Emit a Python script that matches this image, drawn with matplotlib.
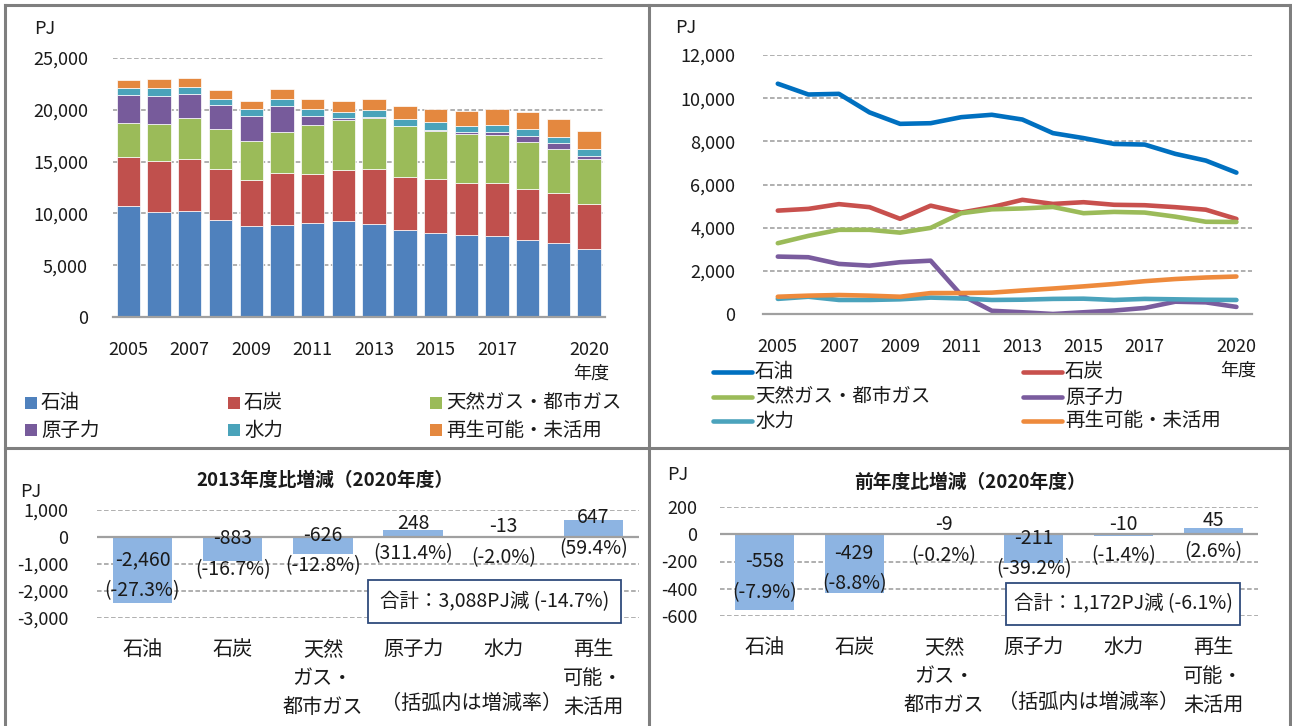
import matplotlib
matplotlib.use('Agg')
import matplotlib.pyplot as plt
from matplotlib.patches import Rectangle
from matplotlib.lines import Line2D
from matplotlib.transforms import offset_copy

plt.rcParams['font.family'] = ['Noto Sans CJK JP', 'DejaVu Sans']
plt.rcParams['text.color'] = '#1a1a1a'
plt.rcParams['xtick.color'] = '#1a1a1a'
plt.rcParams['ytick.color'] = '#1a1a1a'

W, H = 1292, 726

# ---- data (PJ) ----
years = list(range(2005, 2021))
sources = ['石油', '石炭', '天然ガス・都市ガス', '原子力', '水力', '再生可能・未活用']
oil     = [10670, 10170, 10200, 9340, 8810, 8840, 9120, 9230, 9010, 8380, 8150, 7880, 7850, 7420, 7108, 6550]
coal    = [4790, 4870, 5090, 4950, 4410, 5020, 4700, 4950, 5290, 5100, 5180, 5060, 5040, 4950, 4833, 4404]
gas     = [3280, 3620, 3900, 3900, 3770, 3990, 4670, 4850, 4890, 4960, 4670, 4730, 4700, 4510, 4273, 4264]
nuclear = [2660, 2630, 2320, 2240, 2400, 2470, 880, 150, 80, 0, 80, 160, 280, 570, 539, 328]
hydro   = [700, 800, 650, 650, 680, 760, 720, 650, 663, 700, 710, 650, 700, 680, 660, 650]
renew   = [800, 850, 880, 850, 800, 970, 970, 990, 1089, 1180, 1280, 1390, 1520, 1620, 1691, 1736]
series = [oil, coal, gas, nuclear, hydro, renew]

year_ticks = [2005, 2007, 2009, 2011, 2013, 2015, 2017, 2020]
year_labels = ['2005', '2007', '2009', '2011', '2013', '2015', '2017', '2020\n年度']

bar_colors = ['#4F81BD', '#C0504D', '#9BBB59', '#775B9B', '#4AA3BA', '#E4883F']
line_colors = ['#0070C0', '#C8504D', '#9BBB59', '#7A5C9E', '#4BA3BC', '#EE8A3C']

cat_labels = ['石油', '石炭', '天然\nガス・\n都市ガス', '原子力', '水力', '再生\n可能・\n未活用']
d13_vals = [-2460, -883, -626, 248, -13, 647]
d13_pct = ['-27.3%', '-16.7%', '-12.8%', '311.4%', '-2.0%', '59.4%']
d13_total = '合計：3,088PJ減 (-14.7%)'
dprev_vals = [-558, -429, -9, -211, -10, 45]
dprev_pct = ['-7.9%', '-8.8%', '-0.2%', '-39.2%', '-1.4%', '2.6%']
dprev_total = '合計：1,172PJ減 (-6.1%)'

fig = plt.figure(figsize=(W / 100, H / 100), dpi=100)


def px_axes(l, t, r, b):
    return fig.add_axes([l / W, 1 - b / H, (r - l) / W, (b - t) / H])


def fx(x):
    return x / W


def fy(y):
    return 1 - y / H


def style_axes(ax, ypad):
    for s in ax.spines.values():
        s.set_visible(False)
    ax.grid(axis='y', color='#9a9a9a', linestyle=(0, (3, 1.6)), linewidth=1.1)
    ax.set_axisbelow(True)
    ax.tick_params(length=0, labelsize=13)
    ax.tick_params(axis='y', pad=ypad)


# ---- top left: stacked bars ----
ax1 = px_axes(113, 58, 604.5, 317)
x = list(range(len(years)))
bottom = [0] * len(years)
for name, vals, c in zip(sources, series, bar_colors):
    ax1.bar(x, vals, bottom=bottom, width=0.76, color=c, edgecolor='white', linewidth=0.5)
    bottom = [b + v for b, v in zip(bottom, vals)]
ax1.set_xlim(-0.5, len(years) - 0.5)
ax1.set_ylim(0, 25000)
ax1.set_yticks(range(0, 25001, 5000))
ax1.set_yticklabels(['{:,}'.format(v) for v in range(0, 25001, 5000)])
style_axes(ax1, 18)
ax1.spines['bottom'].set_visible(True)
ax1.spines['bottom'].set_color('#a0a0a0')
ax1.spines['bottom'].set_linewidth(1.6)
ax1.set_xticks([years.index(y) for y in year_ticks])
ax1.set_xticklabels(year_labels, linespacing=1.45)
ax1.tick_params(axis='x', pad=17)
for t in ax1.get_xticklabels():
    t.set_multialignment('right')
fig.text(fx(45), fy(29), 'PJ', ha='center', va='center', fontsize=13)

# legend (squares)
leg_pos = [(25, 403), (228, 403), (430, 403), (25, 430), (228, 430), (430, 430)]
for (lx, ly), name, c in zip(leg_pos, sources, bar_colors):
    fig.add_artist(Rectangle((fx(lx), fy(ly + 6)), 12 / W, 12 / H, transform=fig.transFigure,
                             facecolor=c, edgecolor='none'))
    fig.text(fx(lx + 16), fy(ly), name, ha='left', va='center', fontsize=14)

# ---- top right: lines ----
ax2 = px_axes(762.5, 55, 1251.7, 314)
for vals, c in zip(series, line_colors):
    ax2.plot(x, vals, color=c, linewidth=3.3, solid_capstyle='round')
ax2.set_xlim(-0.5, len(years) - 0.5)
ax2.set_ylim(0, 12000)
ax2.set_yticks(range(0, 12001, 2000))
ax2.set_yticklabels(['{:,}'.format(v) for v in range(0, 12001, 2000)])
style_axes(ax2, 19.5)
ax2.spines['bottom'].set_visible(True)
ax2.spines['bottom'].set_color('#a0a0a0')
ax2.spines['bottom'].set_linewidth(1.6)
ax2.set_xticks([years.index(y) for y in year_ticks])
ax2.set_xticklabels(year_labels, linespacing=1.45)
ax2.tick_params(axis='x', pad=17)
for t in ax2.get_xticklabels():
    t.set_multialignment('right')
fig.text(fx(686), fy(28), 'PJ', ha='center', va='center', fontsize=13)

leg2_pos = [(711, 372), (1021, 372), (711, 397), (1021, 397), (711, 421), (1021, 421)]
for (lx, ly), name, c in zip(leg2_pos, sources, line_colors):
    fig.add_artist(Line2D([fx(lx + 2), fx(lx + 41)], [fy(ly), fy(ly)], transform=fig.transFigure,
                          color=c, linewidth=3.3, solid_capstyle='round'))
    fig.text(fx(lx + 44), fy(ly), name, ha='left', va='center', fontsize=14)


# ---- bottom: difference charts ----
def diff_chart(box, lim, step, vals, pcts, title, title_xy, pj_xy, total, total_box, note_xy, ypad):
    ax = px_axes(*box)
    pos = list(range(len(vals)))
    ax.bar(pos, vals, width=0.66, color='#8DB4E2', edgecolor='none', zorder=2)
    ax.axhline(0, color='#a0a0a0', linewidth=1.6, zorder=3)
    lab_tr = offset_copy(ax.transData, fig=fig, y=-5, units='dots')
    for i, (v, p) in zip(pos, zip(vals, pcts)):
        ax.text(i, v / 2, '{:,}\n({})'.format(v, p), ha='center', va='center',
                fontsize=14, linespacing=1.6, zorder=4, transform=lab_tr)
    ax.set_xlim(-0.5, len(vals) - 0.5)
    ax.set_ylim(*lim)
    ticks = list(range(lim[0], lim[1] + 1, step))
    ax.set_yticks(ticks)
    ax.set_yticklabels(['{:,}'.format(t) for t in ticks])
    style_axes(ax, ypad)
    ax.set_xticks(pos)
    ax.set_xticklabels(cat_labels, fontsize=14.5, linespacing=1.5, va='top')
    ax.tick_params(axis='x', pad=15)
    fig.text(fx(title_xy[0]), fy(title_xy[1]), title, ha='center', va='center',
             fontsize=13.5, fontweight='bold')
    fig.text(fx(pj_xy[0]), fy(pj_xy[1]), 'PJ', ha='center', va='center', fontsize=13)
    l, t, r, b = total_box
    fig.add_artist(Rectangle((fx(l), fy(b)), (r - l) / W, (b - t) / H, transform=fig.transFigure,
                             facecolor='white', edgecolor='#2F4B7C', linewidth=1.3, zorder=5))
    fig.text(fx((l + r) / 2), fy((t + b) / 2), total, ha='center', va='center', fontsize=14, zorder=6)
    fig.text(fx(note_xy[0]), fy(note_xy[1]), '（括弧内は増減率）', ha='center', va='center', fontsize=14.5)
    return ax


diff_chart((97.4, 510, 638.5, 618), (-3000, 1000), 1000, d13_vals, d13_pct,
           '2013年度比増減（2020年度）', (325, 480), (31, 492), d13_total,
           (368, 580, 621, 623), (472, 703), 21)
diff_chart((719.6, 507, 1258, 616), (-600, 200), 200, dprev_vals, dprev_pct,
           '前年度比増減（2020年度）', (970, 482), (678, 475), dprev_total,
           (1006, 583, 1240, 625), (1089, 702), 16)

# ---- panel frames ----
frame = dict(transform=fig.transFigure, color='#7f7f7f', linewidth=2.2)
fig.add_artist(Line2D([fx(5), fx(1290)], [fy(5), fy(5)], **frame))
fig.add_artist(Line2D([fx(5), fx(5)], [fy(5), fy(726)], **frame))
fig.add_artist(Line2D([fx(1290), fx(1290)], [fy(5), fy(726)], **frame))
fig.add_artist(Line2D([fx(649), fx(649)], [fy(5), fy(726)], **frame))
fig.add_artist(Line2D([fx(5), fx(1290)], [fy(448), fy(448)], **frame))

fig.savefig('out.png', dpi=100)
